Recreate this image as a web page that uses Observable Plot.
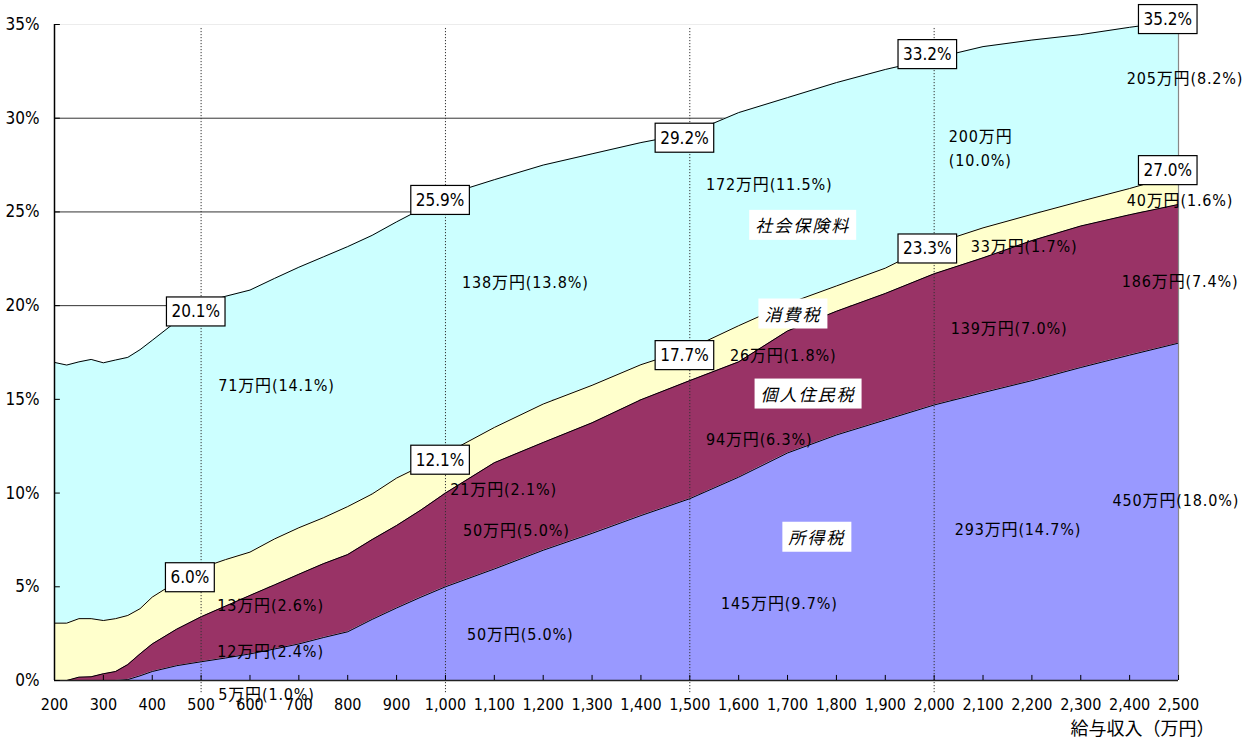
<!DOCTYPE html>
<html><head><meta charset="utf-8">
<script src="https://cdn.jsdelivr.net/npm/d3@7"></script>
<script src="https://cdn.jsdelivr.net/npm/@observablehq/plot@0.6"></script>
<style>
body{margin:0;background:#fff}
svg{display:block}
.vlbl text{letter-spacing:0.85px}
.catlbl text{letter-spacing:2px}
</style>
</head><body><div id="chart"></div>
<script>
// 給与収入（万円）
const income = [200,225,250,275,300,325,350,375,400,450,500,550,600,650,700,750,800,850,900,950,1000,1100,1200,1300,1400,1500,1600,1700,1800,1900,2000,2100,2200,2300,2400,2500];
// 負担率（%） by layer, bottom to top
const incomeTax = [0,0,0,0,0,0,0.05,0.25,0.48,0.79,1.0,1.2,1.42,1.68,1.95,2.29,2.6,3.26,3.87,4.45,5.0,5.95,6.95,7.85,8.8,9.7,10.85,12.14,13.1,13.9,14.7,15.36,16.0,16.7,17.36,18.0];
const residentTax = [0,0,0.18,0.20,0.36,0.48,0.80,1.17,1.47,1.95,2.4,2.77,3.12,3.42,3.72,3.94,4.12,4.26,4.4,4.65,5.0,5.67,5.75,5.9,6.18,6.3,6.15,6.51,6.6,6.75,7.0,7.19,7.47,7.55,7.49,7.4];
const consumptionTax = [3.06,3.06,3.12,3.10,2.84,2.82,2.62,2.41,2.50,2.53,2.6,2.48,2.31,2.45,2.48,2.45,2.56,2.43,2.53,2.34,2.1,1.88,2.05,2.0,1.87,1.7,1.93,1.45,1.35,1.35,1.6,1.6,1.4,1.32,1.4,1.6];
const socialInsurance = [13.91,13.77,13.70,13.83,13.75,13.80,13.77,13.82,13.70,13.90,14.1,14.05,13.98,13.9,13.9,13.92,13.87,13.8,13.67,13.71,13.8,13.22,12.75,12.35,11.85,11.5,11.37,11.0,10.85,10.6,9.9,9.67,9.3,8.89,8.6,8.2];

const layerNames = ["所得税","個人住民税","消費税","社会保険料"];
const layerColors = ["#9999FF","#993366","#FFFFCC","#CCFFFF"];
const layerValues = [incomeTax, residentTax, consumptionTax, socialInsurance];

const xTicks = [200,300,400,500,600,700,800,900,1000,1100,1200,1300,1400,1500,1600,1700,1800,1900,2000,2100,2200,2300,2400,2500];
const yTicks = [0,5,10,15,20,25,30,35];
const gridY = [5,10,15,20,25,30];
const markIncomes = [500,1000,1500,2000];

// boxed totals (annotation anchor in data coords)
const boxText = ["20.1%","6.0%","25.9%","12.1%","29.2%","17.7%","33.2%","23.3%","35.2%","27.0%"];
const boxX = [489,477,989,989,1489,1489,1986,1986,2478,2478];
const boxY = [19.66,5.48,25.61,11.75,28.93,17.33,33.39,23.02,35.26,27.2];

// amount labels
const valText = ["71万円(14.1%)","13万円(2.6%)","12万円(2.4%)","5万円(1.0%)","138万円(13.8%)","21万円(2.1%)","50万円(5.0%)","50万円(5.0%)","172万円(11.5%)","26万円(1.8%)","94万円(6.3%)","145万円(9.7%)","200万円","(10.0%)","205万円(8.2%)","40万円(1.6%)","33万円(1.7%)","186万円(7.4%)","139万円(7.0%)","293万円(14.7%)","450万円(18.0%)"];
const valX = [535,533,533,535,1034,1010,1036,1044,1533,1582,1533,1564,2030,2030,2394,2394,2075,2384,2034,2042,2365];
const valY = [15.7,4.0,1.55,-0.75,21.2,10.15,7.96,2.46,26.44,17.3,12.82,4.11,29.0,27.72,32.1,25.59,23.13,21.26,18.75,8.01,9.6];

// category labels
const catText = ["社会保険料","消費税","個人住民税","所得税"];
const catX = [1731,1711,1742,1760];
const catY = [24.2,19.47,15.2,7.56];

const rows = [];
layerNames.forEach((name, k) => income.forEach((x, i) => rows.push({income: x, value: layerValues[k][i], layer: name})));
const boxes = boxText.map((t, i) => ({t, x: boxX[i], y: boxY[i]}));
const vals = valText.map((t, i) => ({t, x: valX[i], y: valY[i]}));
const cats = catText.map((t, i) => ({t, x: catX[i], y: catY[i]}));

const NUMFONT = '"Liberation Sans Narrow","Arial Narrow","DejaVu Sans Condensed","Noto Sans CJK JP",sans-serif';

const chart = Plot.plot({
  width: 1249, height: 740,
  marginLeft: 54, marginRight: 71, marginTop: 24, marginBottom: 60,
  x: {domain: [200, 2500]},
  y: {domain: [0, 35]},
  color: {domain: layerNames, range: layerColors},
  style: {fontFamily: NUMFONT, fontSize: "17px", background: "white", color: "black"},
  marks: [
    Plot.ruleY(gridY, {stroke: "#333", strokeWidth: 1}),
    Plot.ruleY([35], {stroke: "#ececec", strokeWidth: 1}),
    Plot.areaY(rows, {x: "income", y: "value", z: "layer", fill: "layer"}),
    Plot.lineY(rows, Plot.stackY2({x: "income", y: "value", z: "layer", stroke: "black", strokeWidth: 1})),
    Plot.ruleX([2500], {y1: 0, y2: 35, stroke: "#888", strokeWidth: 1.2}),
    Plot.ruleX(markIncomes, {y1: -0.65, y2: 34.83, stroke: "#333", strokeWidth: 1, strokeDasharray: "1.2,1.8"}),
    Plot.ruleX([200], {y1: 0, y2: 35, stroke: "black", strokeWidth: 1.5}),
    Plot.ruleY([0], {stroke: "#222", strokeWidth: 1.5}),
    Plot.ruleY(yTicks, {x1: 200, x2: 212, stroke: "black"}),
    Plot.ruleX(xTicks, {y1: 0, y2: 0.27, stroke: "black"}),
    Plot.axisY({ticks: yTicks, tickFormat: d => d + "%", tickSize: 0, tickPadding: 15, label: null}),
    Plot.axisX({ticks: xTicks, tickFormat: d3.format(","), tickSize: 0, tickPadding: 18, label: null, fontSize: 16}),
    Plot.text(["給与収入（万円）"], {frameAnchor: "bottom-right", textAnchor: "end", lineAnchor: "middle", dx: 36, dy: 49, fontFamily: '"Noto Sans CJK JP"', fontSize: 18}),
    Plot.text(vals, {x: "x", y: "y", text: "t", textAnchor: "start", className: "vlbl", fontSize: 16}),
    Plot.text(cats, {x: "x", y: "y", text: "t", className: "catlbl", fontFamily: '"Noto Sans CJK JP"', fontStyle: "italic", fontSize: 17}),
    Plot.text(boxes, {x: "x", y: "y", text: "t", className: "boxlbl", fontSize: 17})
  ]
});
document.getElementById("chart").append(chart);

const ns = "http://www.w3.org/2000/svg";
function addBoxes(cls, stroke, padX, h) {
  chart.querySelectorAll(`g.${cls} text`).forEach(t => {
    const b = t.getBBox();
    const r = document.createElementNS(ns, "rect");
    r.setAttribute("x", b.x - padX);
    r.setAttribute("width", b.width + 2 * padX);
    const cy = b.y + b.height / 2;
    r.setAttribute("y", cy - h / 2);
    r.setAttribute("height", h);
    r.setAttribute("fill", "white");
    if (stroke) { r.setAttribute("stroke", "black"); r.setAttribute("stroke-width", 1.2); }
    const tr = t.getAttribute("transform");
    if (tr) r.setAttribute("transform", tr);
    t.parentNode.insertBefore(r, t);
  });
}
addBoxes("boxlbl", true, 5, 29);
addBoxes("catlbl", false, 6, 30);
</script>
</body></html>
